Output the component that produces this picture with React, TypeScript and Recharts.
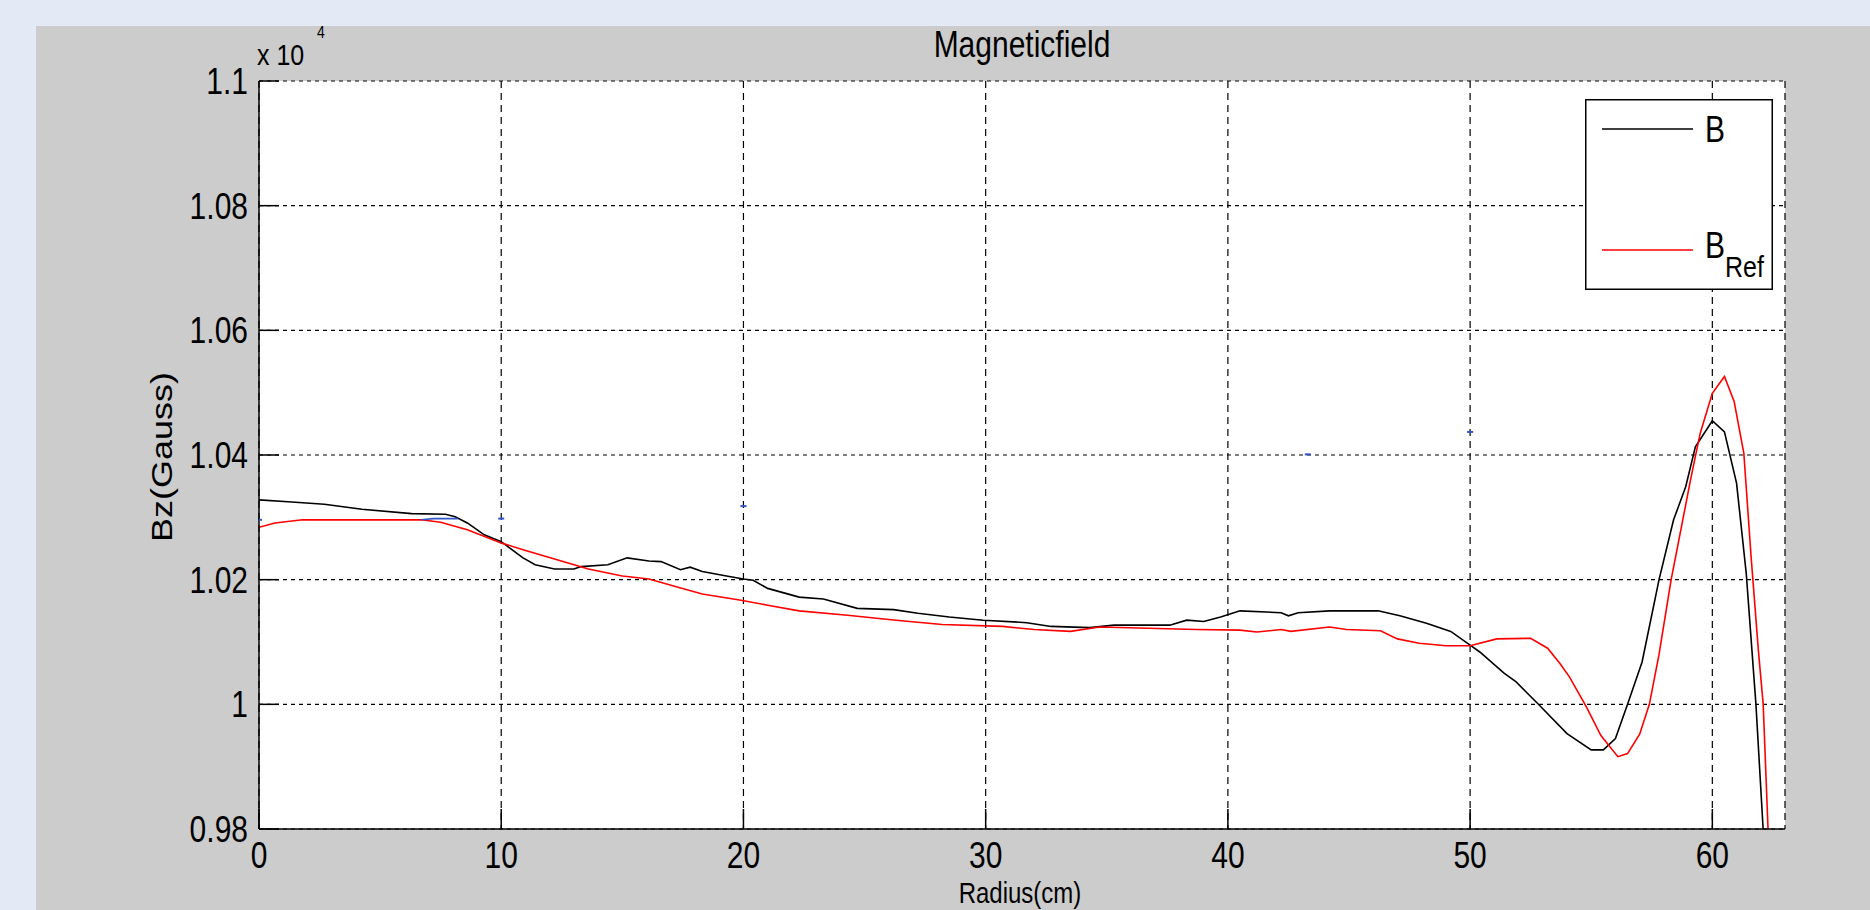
import React from 'react'
import { ComposedChart, Line, Scatter, XAxis, YAxis, CartesianGrid, Legend } from 'recharts'

// Bz along the radius (Gauss)
const radiusB = [0, 1.2, 2.7, 4.25, 6.3, 7.7, 8.1, 8.6, 9.3, 10, 10.9, 11.4, 12.2, 13.0, 13.3, 14.4, 15.2, 16.1, 16.6, 17.4, 17.8, 18.3, 19.3, 20.0, 20.4, 21, 22.3, 23.3, 24.7, 26.2, 27.2, 28.5, 29.9, 31.7, 32.7, 34.3, 35.3, 37.6, 38.3, 39, 39.7, 40.5, 42.2, 42.5, 42.9, 44.2, 46.2, 47.1, 48.2, 49.2, 50, 50.4, 51.4, 51.9, 52.8, 54, 55, 55.5, 56, 56.5, 57.1, 57.8, 58.4, 58.9, 59.3, 60, 60.5, 61, 61.4, 61.8, 62.1, 62.3]
const bzB = [10328, 10325, 10321, 10313, 10306, 10305, 10301, 10291, 10272, 10261, 10235, 10224, 10217, 10217, 10221, 10224, 10235, 10230, 10229, 10216, 10220, 10213, 10206, 10201, 10199, 10186, 10172, 10169, 10154, 10152, 10146, 10140, 10135, 10131, 10125, 10123, 10127, 10127, 10135, 10133, 10140, 10150, 10147, 10142, 10147, 10150, 10150, 10142, 10130, 10117, 10095, 10084, 10050, 10036, 10001, 9953, 9927, 9927, 9945, 10000, 10068, 10200, 10296, 10349, 10413, 10455, 10437, 10355, 10210, 10000, 9798, 9750]

const radiusRef = [0, 0.66, 1.8, 6.7, 7.5, 8.6, 10, 10.9, 12.2, 13.6, 15, 16.1, 17.3, 18.3, 19.9, 21, 22.3, 24.3, 26.3, 28.2, 30.7, 32, 33.5, 34.7, 38.7, 40.5, 41.2, 42.2, 42.6, 44.2, 44.9, 46.3, 47, 47.9, 49, 50, 51.1, 52.5, 53.2, 53.7, 54.1, 54.8, 55.4, 56.1, 56.5, 57, 57.4, 57.8, 58.3, 58.7, 59.1, 59.5, 60, 60.5, 60.9, 61.3, 61.6, 61.9, 62.1, 62.3, 62.4]
const bzRef = [10284, 10291, 10296, 10296, 10292, 10280, 10259, 10248, 10233, 10217, 10206, 10201, 10188, 10177, 10167, 10159, 10150, 10143, 10135, 10128, 10125, 10120, 10117, 10124, 10120, 10119, 10116, 10120, 10117, 10124, 10120, 10118, 10105, 10098, 10094, 10094, 10105, 10106, 10090, 10066, 10044, 9996, 9950, 9916, 9921, 9952, 10000, 10080, 10200, 10280, 10360, 10435, 10499, 10526, 10486, 10403, 10237, 10087, 10000, 9800, 9750]

// stray blue marks in the original figure
const radiusBlue = [6.7, 7.2, 8.2]
const bzBlue = [10296, 10298, 10298]
const radiusDots = [0, 10, 20, 43.3, 50]
const bzDots = [10296, 10298, 10318, 10401, 10437]

const xTicks = [0, 10, 20, 30, 40, 50, 60]
const yTicks = [9800, 10000, 10200, 10400, 10600, 10800, 11000]

// the original figure is stretched vertically, so text is drawn in Arial-like font scaled 1.2 in y
const FONT = '"Liberation Sans", Arial, sans-serif'
const STRETCH = 1.2

const toRows = (rs: number[], vs: number[]) => rs.map((r, i) => ({ r, bz: vs[i] }))
const dataB = toRows(radiusB, bzB)
const dataRef = toRows(radiusRef, bzRef)
const dataBlue = toRows(radiusBlue, bzBlue)
const dataDots = toRows(radiusDots, bzDots)

const fmtY = (v: number) => String(Number((v / 1e4).toFixed(2)))

const TICK = 20

const SText = ({ x, y, size = 30, anchor = 'start', children }: any) => (
  <text transform={`translate(${x},${y}) scale(1,${STRETCH})`} textAnchor={anchor}
    fontFamily={FONT} fontSize={size} fill="#000">{children}</text>
)

const BottomTick = ({ x, y, payload }: any) => (
  <g>
    <line x1={x} y1={y} x2={x} y2={y - TICK} stroke="#000" strokeWidth={1.5} />
    <SText x={x} y={y + 39} anchor="middle">{payload.value}</SText>
  </g>
)
const TopTick = ({ x, y }: any) => (
  <line x1={x} y1={y} x2={x} y2={y + TICK} stroke="#000" strokeWidth={1.5} />
)
const LeftTick = ({ x, y, payload }: any) => (
  <g>
    <line x1={x} y1={y} x2={x + TICK} y2={y} stroke="#000" strokeWidth={1.5} />
    <SText x={x - 11} y={y + 13} anchor="end">{fmtY(payload.value)}</SText>
  </g>
)
const RightTick = ({ x, y }: any) => (
  <line x1={x} y1={y} x2={x - TICK} y2={y} stroke="#000" strokeWidth={1.5} />
)

const BlueDash = ({ cx, cy }: any) => (
  <rect x={cx - 3} y={cy - 1} width={6} height={2} fill="#3355cc" />
)

const LegendBox = ({ payload }: any) => {
  const items = (payload || []).filter((p: any) => p.type !== 'none')
  return (
    <svg width={188} height={191} style={{ display: 'block' }}>
      <rect x={0.75} y={0.75} width={186.5} height={189.5} fill="#fff" stroke="#000" strokeWidth={1.5} />
      {items.map((p: any, i: number) => {
        const ly = 30 + i * 121
        const [main, sub] = String(p.value).split('_')
        return (
          <g key={i}>
            <line x1={17} y1={ly} x2={108} y2={ly} stroke={p.color} strokeWidth={1.6} />
            <SText x={120} y={ly + (sub ? 8 : 13)}>
              {main}
              {sub && <tspan fontSize={25} dy={16}>{sub}</tspan>}
            </SText>
          </g>
        )
      })}
    </svg>
  )
}

export default function App() {
  return (
    <div style={{ position: 'absolute', left: 0, top: 0, width: 1870, height: 910, background: '#e3eaf5', overflow: 'hidden' }}>
      <div style={{ position: 'absolute', left: 36, top: 26, width: 1834, height: 884, background: '#cccccc' }} />
      <div style={{ position: 'absolute', left: 0, top: 0 }}>
        <ComposedChart width={1870} height={910} margin={{ top: 81, right: 85, bottom: 21, left: 159 }}>
          <CartesianGrid horizontal={false} stroke="#000" strokeWidth={1.2} strokeDasharray="7 5" fill="#fff" />
          <CartesianGrid vertical={false} stroke="#000" strokeWidth={1.2} strokeDasharray="4 4" />
          <XAxis dataKey="r" type="number" domain={[0, 63]} ticks={xTicks} interval={0} height={60}
            tickSize={0} tickMargin={0} tickLine={false} tick={<BottomTick />} allowDataOverflow
            axisLine={{ stroke: '#000', strokeWidth: 1.5 }} />
          <XAxis xAxisId="top" orientation="top" dataKey="r" type="number" domain={[0, 63]} ticks={xTicks} interval={0} height={0}
            tickSize={0} tickMargin={0} tickLine={false} tick={<TopTick />} allowDataOverflow
            axisLine={{ stroke: '#000', strokeWidth: 1.5 }} />
          <YAxis dataKey="bz" type="number" domain={[9800, 11000]} ticks={yTicks} interval={0} width={100}
            tickSize={0} tickMargin={0} tickLine={false} tick={<LeftTick />} allowDataOverflow
            axisLine={{ stroke: '#000', strokeWidth: 1.5 }} />
          <YAxis yAxisId="right" orientation="right" type="number" domain={[9800, 11000]} ticks={yTicks} interval={0} width={0}
            tickSize={0} tickMargin={0} tickLine={false} tick={<RightTick />} allowDataOverflow
            axisLine={{ stroke: '#000', strokeWidth: 1.5 }} />
          <Line data={dataB} dataKey="bz" name="B" type="linear" stroke="#000000" strokeWidth={1.6} dot={false} isAnimationActive={false} />
          <Line data={dataRef} dataKey="bz" name="B_Ref" type="linear" stroke="#ff0000" strokeWidth={1.6} dot={false} isAnimationActive={false} />
          <Line data={dataBlue} dataKey="bz" name="blue" legendType="none" type="linear" stroke="#3355cc" strokeWidth={1.6} dot={false} isAnimationActive={false} />
          <Scatter data={dataDots} dataKey="bz" name="dots" legendType="none" shape={<BlueDash />} isAnimationActive={false} />
          <Legend layout="horizontal" verticalAlign="middle" align="center" content={<LegendBox />}
            wrapperStyle={{ left: 1585, top: 99, width: 188, height: 191 }} />
        </ComposedChart>
      </div>
      <svg width={1870} height={910} style={{ position: 'absolute', left: 0, top: 0, pointerEvents: 'none' }}>
        <SText x={1022} y={57} anchor="middle">Magneticfield</SText>
        <SText x={257} y={65} size={25}>x 10</SText>
        <SText x={317} y={38} size={14}>4</SText>
        <text transform={`translate(172, 457) scale(1,${STRETCH}) rotate(-90)`} textAnchor="middle"
          fontFamily={FONT} fontSize={30} fill="#000">Bz(Gauss)</text>
        <SText x={1020} y={903} size={24} anchor="middle">Radius(cm)</SText>
      </svg>
    </div>
  )
}
